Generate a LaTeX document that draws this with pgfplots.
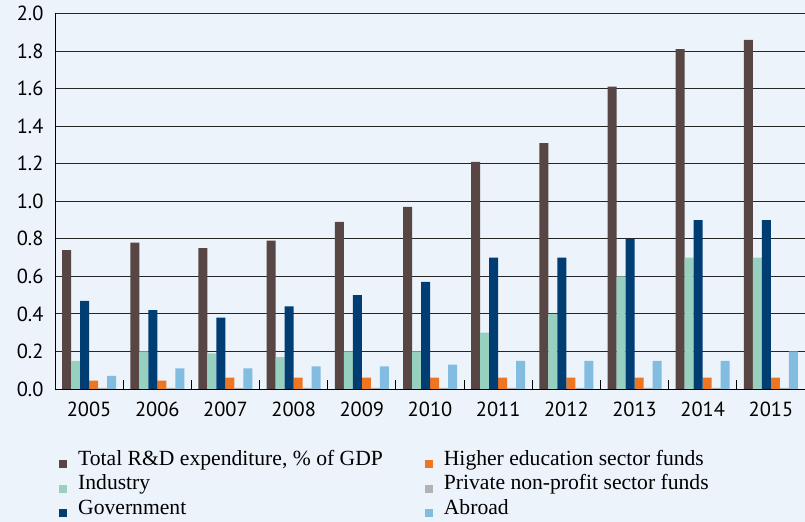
\documentclass[border=0pt]{standalone}
\usepackage{pgfplots}
\pgfplotsset{compat=1.18}
\usepackage{fontspec}
\setmainfont{Liberation Serif}
\newfontfamily\legserif{Liberation Serif}
\newfontfamily\ticksans{PT Sans}
\definecolor{bgcol}{RGB}{236,243,250}
\definecolor{ctotal}{RGB}{87,70,68}
\definecolor{cind}{RGB}{152,208,192}
\definecolor{cgov}{RGB}{0,61,115}
\definecolor{che}{RGB}{238,118,35}
\definecolor{cpriv}{RGB}{178,178,178}
\definecolor{cabr}{RGB}{130,188,224}
\begin{document}
\begin{tikzpicture}
\path[use as bounding box, fill=bgcol] (0,0) rectangle (805bp,522bp);
\begin{axis}[
  at={(55bp,133bp)}, anchor=south west,
  scale only axis, width=750bp, height=375.5bp,
  xmin=-0.5, xmax=10.5, ymin=0, ymax=2.0,
  axis lines*=left,
  axis line style={black, line width=0.9bp},
  ybar=0pt, bar width=9bp,
  xtick={0,...,10},
  xticklabels={2005,2006,2007,2008,2009,2010,2011,2012,2013,2014,2015},
  minor xtick={0.5,1.5,...,9.5},
  ytick={0,0.2,...,2.0},
  yticklabel style={/pgf/number format/fixed, /pgf/number format/fixed zerofill, /pgf/number format/precision=1, xshift=-8bp},
  /pgf/number format/assume math mode=true,
  ticklabel style={font=\ticksans\fontsize{20.5}{20.5}\selectfont, text=black},
  xticklabel style={yshift=-9bp},
  major tick length=0pt, minor tick length=9bp, tick align=inside,
  minor tick style={black, line width=1bp},
  ymajorgrids, grid style={black!85, line width=1bp},
  legend image code/.code={\path[#1] (0bp,-6bp) rectangle (8bp,2bp);},
  legend columns=2,
  legend cell align=left,
  legend style={draw=none, fill=none, at={(axis description cs:0,0)}, anchor=north west,
    xshift=1bp, yshift=-59bp,
    font=\legserif\fontsize{21.7}{24.5}\selectfont,
    nodes={inner sep=0pt, text height=15bp, text depth=9.5bp},
    /tikz/every odd column/.append style={column sep=11bp},
    /tikz/every even column/.append style={column sep=42bp},
  },
]
\addplot[fill=ctotal, draw=none, bar shift=-22.5bp] coordinates {(0,0.74)(1,0.78)(2,0.75)(3,0.79)(4,0.89)(5,0.97)(6,1.21)(7,1.31)(8,1.61)(9,1.81)(10,1.86)};
\addlegendentry{Total R\&D expenditure, \% of GDP}
\addplot[fill=che, draw=none, bar shift=4.5bp] coordinates {(0,0.045)(1,0.045)(2,0.06)(3,0.06)(4,0.06)(5,0.06)(6,0.06)(7,0.06)(8,0.06)(9,0.06)(10,0.06)};
\addlegendentry{Higher education sector funds}
\addplot[fill=cind, draw=none, bar shift=-13.5bp] coordinates {(0,0.15)(1,0.20)(2,0.19)(3,0.17)(4,0.20)(5,0.20)(6,0.30)(7,0.40)(8,0.60)(9,0.70)(10,0.70)};
\addlegendentry{Industry}
\addplot[fill=cpriv, draw=none, bar shift=13.5bp] coordinates {(0,0.006)(1,0.006)(2,0.006)(3,0.006)(4,0.006)(5,0.006)(6,0.006)(7,0.006)(8,0.006)(9,0.006)(10,0.006)};
\addlegendentry{Private non-profit sector funds}
\addplot[fill=cgov, draw=none, bar shift=-4.5bp] coordinates {(0,0.47)(1,0.42)(2,0.38)(3,0.44)(4,0.50)(5,0.57)(6,0.70)(7,0.70)(8,0.80)(9,0.90)(10,0.90)};
\addlegendentry{Government}
\addplot[fill=cabr, draw=none, bar shift=22.5bp] coordinates {(0,0.07)(1,0.11)(2,0.11)(3,0.12)(4,0.12)(5,0.13)(6,0.15)(7,0.15)(8,0.15)(9,0.15)(10,0.20)};
\addlegendentry{Abroad}
\end{axis}
\end{tikzpicture}
\end{document}
